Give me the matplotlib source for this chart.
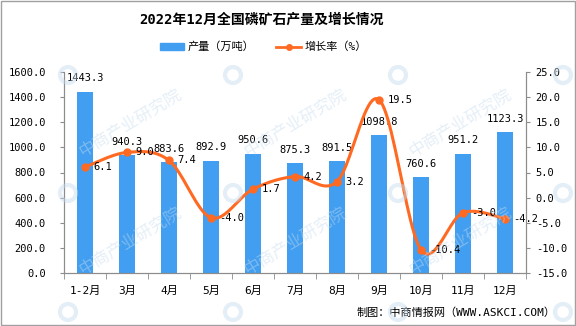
import numpy as np
import matplotlib.pyplot as plt
from matplotlib.patches import Rectangle, Ellipse, Patch
from matplotlib.lines import Line2D

plt.rcParams['font.family'] = ['DejaVu Sans Mono', 'Noto Sans CJK SC']

months = ["1-2月", "3月", "4月", "5月", "6月", "7月", "8月", "9月", "10月", "11月", "12月"]
output = [1443.3, 940.3, 883.6, 892.9, 950.6, 875.3, 891.5, 1098.8, 760.6, 951.2, 1123.3]
growth = [6.1, 9.0, 7.4, -4.0, 1.7, 4.2, 3.2, 19.5, -10.4, -3.0, -4.2]

BLUE = "#419ef0"
ORANGE = "#ff6a22"
GRAY = "#8c8c8c"
W, H = 576, 326


def smooth(xs, ys, n=25):
    # bezier smoothing through the points, like a spreadsheet "smoothed line"
    pts = np.column_stack([xs, ys]).astype(float)
    padded = np.vstack([pts[0], pts, pts[-1]])
    out = []
    t = np.linspace(0, 1, n)[:, None]
    for i in range(len(pts) - 1):
        p0, p1, p2, p3 = padded[i:i + 4]
        c1 = p1 + (p2 - p0) / 6
        c2 = p2 - (p3 - p1) / 6
        seg = (1 - t) ** 3 * p1 + 3 * (1 - t) ** 2 * t * c1 + 3 * (1 - t) * t ** 2 * c2 + t ** 3 * p2
        out.append(seg if i == 0 else seg[1:])
    return np.vstack(out)


fig = plt.figure(figsize=(W / 100, H / 100), dpi=100)
ax = fig.add_axes([64 / W, 1 - 273 / H, (526 - 64) / W, (273 - 72) / H])
x = np.arange(len(months))

ax.bar(x, output, width=0.38, color=BLUE, zorder=2)
for xi, v in zip(x, output):
    ax.annotate(f"{v:.1f}", (xi, v), xytext=(0, 6), textcoords="offset points",
                ha="center", va="bottom", fontsize=7.5)

ax.set_xlim(-0.5, len(months) - 0.5)
ax.set_ylim(0, 1600)
ax.set_yticks(np.arange(0, 1601, 200))
ax.set_yticklabels([f"{v:.1f}" for v in np.arange(0, 1601, 200)], fontsize=7.5)
ax.set_xticks(x)
ax.set_xticklabels(months, fontsize=8)
ax.set_xticks(np.arange(-0.5, len(months), 1), minor=True)
ax.tick_params(axis="x", which="major", length=0, pad=9)
ax.tick_params(axis="x", which="minor", length=4, color=GRAY)
ax.tick_params(axis="y", length=3, color=GRAY, pad=10)

ax2 = ax.twinx()
curve = smooth(x, growth)
ax2.plot(curve[:, 0], curve[:, 1], color=ORANGE, lw=2.2, zorder=3)
ax2.plot(x, growth, "o", color=ORANGE, ms=5, zorder=4)
for xi, v in zip(x, growth):
    ax2.annotate(f"{v:.1f}", (xi, v), xytext=(6, 0), textcoords="offset points",
                 ha="left", va="center", fontsize=7.5)
ax2.set_ylim(-15, 25)
ax2.set_yticks(np.arange(-15, 26, 5))
ax2.set_yticklabels([f"{v:.1f}" for v in np.arange(-15, 26, 5)], fontsize=7.5)
ax2.tick_params(axis="y", length=3, color=GRAY, pad=4)

for a in (ax, ax2):
    a.spines["top"].set_visible(False)
    for s in ("left", "right", "bottom"):
        a.spines[s].set_color(GRAY)

fig.text(262 / W, 1 - 20 / H, "2022年12月全国磷矿石产量及增长情况",
         ha="center", va="center", fontsize=10, fontweight="bold")

handles = [Patch(color=BLUE, label="产量（万吨）"),
           Line2D([], [], color=ORANGE, lw=2, marker="o", ms=4, label="增长率（%）")]
fig.legend(handles=handles, loc="center", bbox_to_anchor=(263 / W, 1 - 47 / H), ncol=2,
           frameon=False, fontsize=8, handlelength=2.2, handleheight=0.6,
           columnspacing=2.0, handletextpad=0.3)

fig.text(556 / W, 1 - 313 / H, "制图：中商情报网（WWW.ASKCI.COM）",
         ha="right", va="center", fontsize=8)

# watermark (only the copies that fit inside the picture)
for lx in (68, 233, 398, 563):
    for ly in (75, 193, 312):
        fig.patches.append(Ellipse((lx / W, 1 - ly / H), 16 / W, 16 / H, transform=fig.transFigure,
                                   fill=False, lw=3, edgecolor="#c5dbee", alpha=0.45, zorder=10))
        if lx < 500 and ly < 250:
            fig.text((lx + 62) / W, 1 - (ly + 48) / H, "中商产业研究院", rotation=31,
                     ha="center", va="center", fontsize=12, color="#c5dbee", alpha=0.45, zorder=10)

fig.patches.append(Rectangle((0.001, 0.002), 0.997, 0.995, transform=fig.transFigure,
                             fill=False, edgecolor="#a0a0a0", lw=1))

fig.savefig("out.png", dpi=100)
